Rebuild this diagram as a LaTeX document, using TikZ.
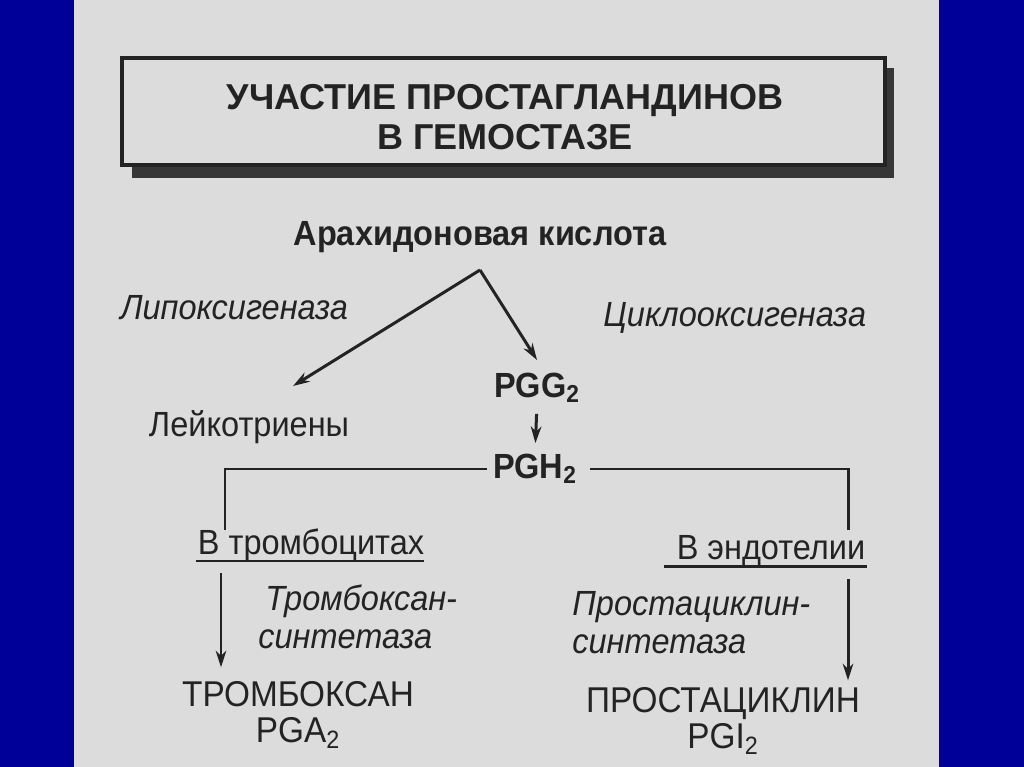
\documentclass[tikz,border=0pt]{standalone}
\usepackage{fontspec}
\setmainfont[FakeStretch=0.93]{Liberation Sans}
\newfontfamily\titlefont{Liberation Sans}
\usetikzlibrary{arrows.meta}
\definecolor{slideblue}{RGB}{0,0,153}
\definecolor{paper}{RGB}{220,220,220}
\definecolor{ink}{RGB}{35,35,35}
\definecolor{boxshadow}{RGB}{55,55,55}

\begin{document}
\begin{tikzpicture}[x=0.02cm,y=-0.02cm,
	txt/.style={inner sep=0pt, text=ink, font=\fontsize{19.9}{22.5}\selectfont},
	heavy/.style={txt, font=\fontsize{19.9}{22.5}\selectfont\bfseries},
	enz/.style={txt, font=\fontsize{19.9}{21.5}\selectfont\itshape, align=left, anchor=west},
	product/.style={txt, align=center, font=\fontsize{20.4}{20.5}\selectfont},
	wire/.style={draw=ink, line width=1.7pt},
	arr/.style={wire, -{Stealth[length=9.5pt, width=6pt, inset=3pt]}},
	uline/.style={draw=ink, line width=1.4pt}]
	% Slide and paper
	\fill[slideblue] (0,0) rectangle (1024,767);
	\fill[paper] (74,0) rectangle (939,767);
	% Title box with shadow
	\fill[boxshadow] (132,68) rectangle (894,178);
	\draw[ink, line width=2.4pt, fill=paper] (122,58) rectangle (885,165);
	\node[heavy, align=center, font=\titlefont\fontsize{20.5}{23}\selectfont\bfseries] (title) at (505,117)
		{УЧАСТИЕ ПРОСТАГЛАНДИНОВ\\В ГЕМОСТАЗЕ};
	% Upper part
	\node[heavy] (acid) at (480,237) {Арахидоновая кислота};
	\node[enz] (lipox) at (120,308) {Липоксигеназа};
	\node[enz] (cyclo) at (603,318) {Циклооксигеназа};
	\node[txt] (leuk) at (249,427) {Лейкотриены};
	\node[heavy] (pgg) at (537,388) {PGG\textsubscript{2}};
	\node[heavy] (pgh) at (535,469) {PGH\textsubscript{2}};
	\coordinate (apex) at (480,270);
	\coordinate (lk) at (293,386);
	\coordinate (pg) at (537,360);
	\draw[arr] (apex) -- (lk);
	\draw[arr] (apex) -- (pg);
	\draw[arr, shorten <=6pt, shorten >=6pt] (pgg.south) -- (pgh.north);
	% Branches
	\coordinate (lb) at (225,530);
	\coordinate (rb) at (848,530);
	\draw[wire, shorten <=3pt] (pgh.west) -| (lb);
	\draw[wire, shorten <=7pt] (pgh.east) -| (rb);
	\node[txt] (plt) at (311,545) {В тромбоцитах};
	\node[txt] (endo) at (771,551) {В эндотелии};
	\draw[uline] ([xshift=-1pt, yshift=-4pt]plt.base west) -- ([yshift=-4pt]plt.base east);
	\draw[uline] ([xshift=-7pt, yshift=-4pt]endo.base west) -- ([xshift=1pt, yshift=-4pt]endo.base east);
	\node[enz] (tsyn) at (258,617) {\hspace*{4pt}Тромбоксан-\\синтетаза};
	\node[enz] (psyn) at (572,623) {Простациклин-\\синтетаза};
	% Products
	\node[product] (txa) at (298,715) {ТРОМБОКСАН\\PGA\textsubscript{2}};
	\node[product] (pgi) at (723,721) {ПРОСТАЦИКЛИН\\PGI\textsubscript{2}};
	\coordinate (l1) at (221,573);
	\coordinate (r1) at (848,579);
	\draw[arr, shorten >=8pt] (l1) -- (l1 |- txa.north);
	\draw[arr, shorten >=4pt] (r1) -- (r1 |- pgi.north);
\end{tikzpicture}
\end{document}
